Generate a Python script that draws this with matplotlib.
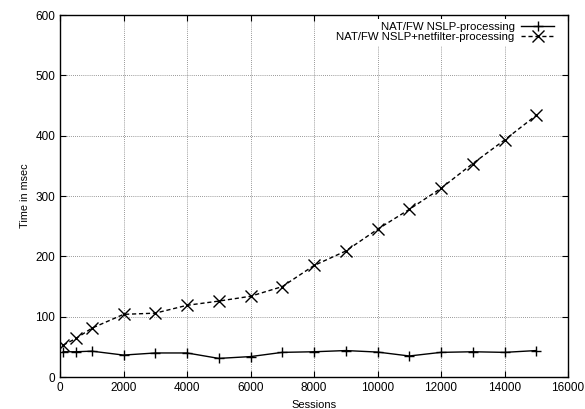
import numpy as np
import matplotlib.pyplot as plt

plt.rcParams['font.family'] = ['Liberation Sans', 'DejaVu Sans']

# Sessions on the x axis
sessions = [100, 500, 1000, 2000, 3000, 4000, 5000, 6000, 7000, 8000,
            9000, 10000, 11000, 12000, 13000, 14000, 15000]
# NAT/FW NSLP-processing time (msec)
nslp = [42, 42, 43, 36.5, 40, 40, 31, 34, 41, 42,
        44, 41.5, 35, 41, 42, 41, 44]
# NAT/FW NSLP+netfilter-processing time (msec)
nslp_netfilter = [53, 64, 81, 104, 106, 119, 126, 134, 150, 185,
                  209, 245, 278, 313, 354, 393, 434]

fig = plt.figure(figsize=(5.85, 4.09), dpi=100)
ax = fig.add_axes([0.1026, 0.078, 0.8684, 0.885])

ax.plot(sessions, nslp, color='black', linestyle='-', linewidth=1.0,
        marker='+', markersize=7.5, markeredgewidth=1.0,
        label='NAT/FW NSLP-processing')
ax.plot(sessions, nslp_netfilter, color='black', linestyle=(0, (3, 2)), linewidth=1.0,
        marker='x', markersize=8, markeredgewidth=1.0,
        label='NAT/FW NSLP+netfilter-processing')

ax.set_xlim(0, 16000)
ax.set_ylim(0, 600)
ax.set_xticks(np.arange(0, 16001, 2000))
ax.set_yticks(np.arange(0, 601, 100))
ax.grid(True, linestyle=(0, (1, 1.5)), color='#777777', linewidth=0.6)
ax.tick_params(direction='in', top=True, right=True, labelsize=8.5, length=4)
for s in ax.spines.values():
    s.set_linewidth(1.0)

ax.set_xlabel('Sessions', fontsize=8)
ax.set_ylabel('Time in msec', fontsize=7.8)

# white key box without border, hides grid lines behind it
leg = ax.legend(loc='upper right', bbox_to_anchor=(0.98, 0.99), frameon=True,
                facecolor='white', edgecolor='none', framealpha=1.0, fancybox=False,
                markerfirst=False, fontsize=8.2, handlelength=2.9, borderaxespad=0,
                labelspacing=0.0, handletextpad=0.6, borderpad=0.3)
for t in leg.get_texts():
    t.set_ha('right')
leg._legend_box.align = 'right'

fig.savefig('out.png', dpi=100)
